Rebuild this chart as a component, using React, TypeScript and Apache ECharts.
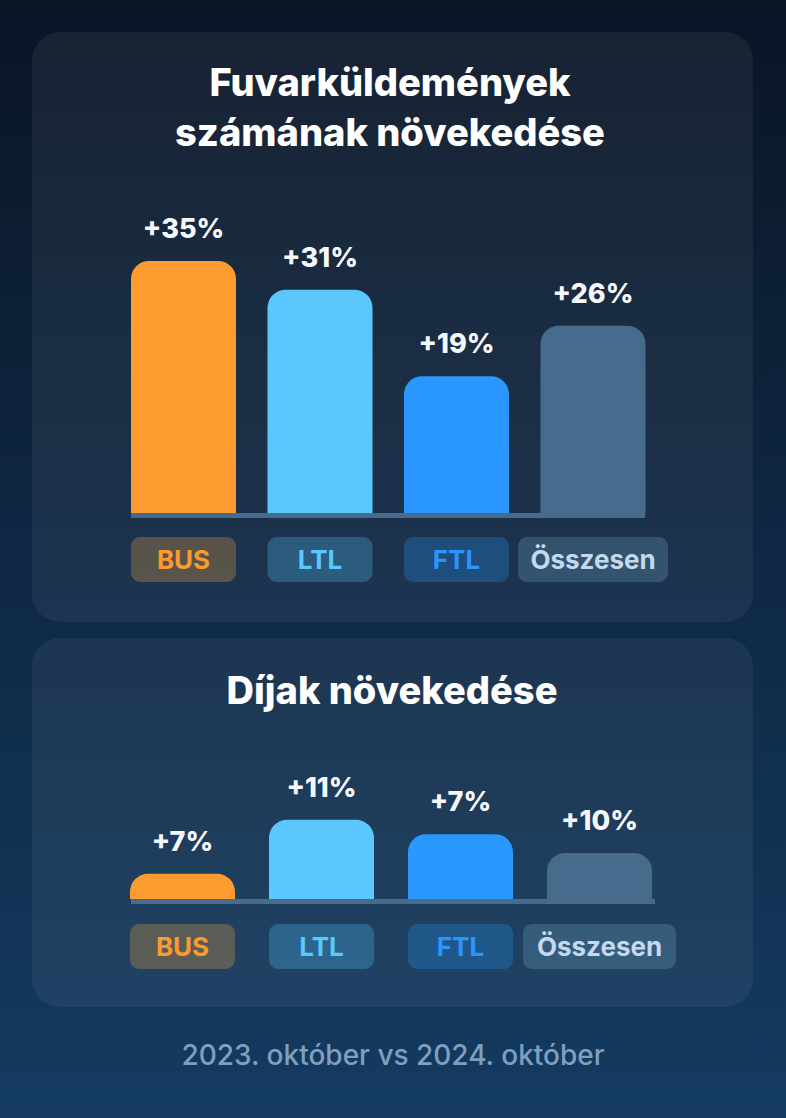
import React, { useEffect, useRef } from "react";
import * as echarts from "echarts";

// ---- data ----
const categories = ["BUS", "LTL", "FTL", "Összesen"];
const shipmentGrowth = [35, 31, 19, 26]; // % labels & bar heights (top)
const feeGrowthLabels = [7, 11, 7, 10]; // % labels (bottom)
// bar heights as drawn in the reference (not proportional to the labels)
const feeBarHeights = [3.5, 11, 9, 6.4];
const titleTopLines = ["Fuvarküldemények", "számának növekedése"];
const titleBottom = "Díjak növekedése";
const footerText = "2023. október vs 2024. október";

// ---- styles ----
const barColors = ["#fd9b30", "#5ac8fd", "#2997fe", "#466b8c"];
const badgeTextColors = ["#fb9b2f", "#5ac8fb", "#2a95fc", "#c5d9ec"];
const badgeBgColors = [
  "rgba(227,161,63,0.3)",
  "rgba(80,184,237,0.3)",
  "rgba(37,141,233,0.3)",
  "rgba(110,158,190,0.3)",
];
const FONT = "Inter, 'Noto Sans', sans-serif";

function makeRich(widths: number[]) {
  const rich: any = {};
  categories.forEach((_, i) => {
    rich["c" + i] = {
      color: badgeTextColors[i],
      backgroundColor: badgeBgColors[i],
      borderRadius: 9,
      width: widths[i],
      height: 45,
      lineHeight: 45,
      align: "center",
      fontSize: 26,
      fontWeight: 700,
      fontFamily: FONT,
    };
  });
  return rich;
}

function barSeries(values: number[], labels: number[], xIdx: number) {
  return {
    type: "bar",
    xAxisIndex: xIdx,
    yAxisIndex: xIdx,
    barWidth: 105,
    data: values.map((v, i) => ({
      value: v,
      itemStyle: { color: barColors[i], borderRadius: [18, 18, 0, 0] },
    })),
    label: {
      show: true,
      position: "top",
      distance: 19,
      formatter: (p: any) => `+${labels[p.dataIndex]}%`,
      color: "#f5f8fc",
      fontSize: 27,
      fontWeight: 800,
      fontFamily: FONT,
    },
  };
}

function titleText(text: string, x: number, y: number) {
  return {
    type: "text",
    x,
    y,
    style: {
      text,
      fill: "#ffffff",
      fontSize: 38,
      fontWeight: 800,
      fontFamily: FONT,
      align: "center",
      verticalAlign: "middle",
    },
  };
}

export default function App() {
  const ref = useRef<HTMLDivElement>(null);
  useEffect(() => {
    document.body.style.margin = "0";
    const chart = echarts.init(ref.current!, null, { renderer: "svg" });
    const H = 1118;
    const option: any = {
      animation: false,
      graphic: [
        {
          type: "rect",
          shape: { x: 0, y: 0, width: 786, height: H },
          style: {
            fill: new echarts.graphic.LinearGradient(0, 0, 0, 1, [
              { offset: 0, color: "#0a1526" },
              { offset: 1, color: "#143b61" },
            ]),
          },
        },
        {
          type: "rect",
          shape: { x: 32, y: 32, width: 721, height: 590, r: 28 },
          style: { fill: "rgba(255,255,255,0.055)" },
        },
        {
          type: "rect",
          shape: { x: 32, y: 638, width: 721, height: 369, r: 28 },
          style: { fill: "rgba(255,255,255,0.055)" },
        },
        ...titleTopLines.map((t, i) => titleText(t, 390, 82 + i * 50)),
        titleText(titleBottom, 392, 690),
        {
          type: "text",
          x: 393,
          y: 1055,
          style: {
            text: footerText,
            fill: "#7f9fbf",
            fontSize: 28,
            fontWeight: 500,
            fontFamily: FONT,
            align: "center",
            verticalAlign: "middle",
          },
        },
        {
          type: "rect",
          shape: { x: 131, y: 513, width: 514, height: 5 },
          style: { fill: "#466b8c" },
        },
        {
          type: "rect",
          shape: { x: 131, y: 899, width: 524, height: 5 },
          style: { fill: "#466b8c" },
        },
      ],
      grid: [
        { left: 115.25, width: 546, top: 225, height: 288 },
        { left: 113, width: 556, top: 791, height: 108 },
      ],
      xAxis: [0, 1].map((g) => ({
        type: "category",
        gridIndex: g,
        data: categories,
        axisLine: { show: false },
        axisTick: { show: false },
        axisLabel: {
          interval: 0,
          margin: g === 0 ? 24 : 25,
          formatter: (v: string, i: number) => `{c${i}|${v}}`,
          rich: makeRich(g === 0 ? [105, 105, 105, 150] : [105, 105, 105, 153]),
        },
      })),
      yAxis: [0, 1].map((g) => ({
        type: "value",
        gridIndex: g,
        min: 0,
        max: g === 0 ? 40 : 15,
        show: false,
        splitLine: { show: false },
      })),
      series: [
        barSeries(shipmentGrowth, shipmentGrowth, 0),
        barSeries(feeBarHeights, feeGrowthLabels, 1),
      ],
    };
    chart.setOption(option);
    return () => chart.dispose();
  }, []);
  return <div ref={ref} style={{ width: 786, height: 1118 }} />;
}
